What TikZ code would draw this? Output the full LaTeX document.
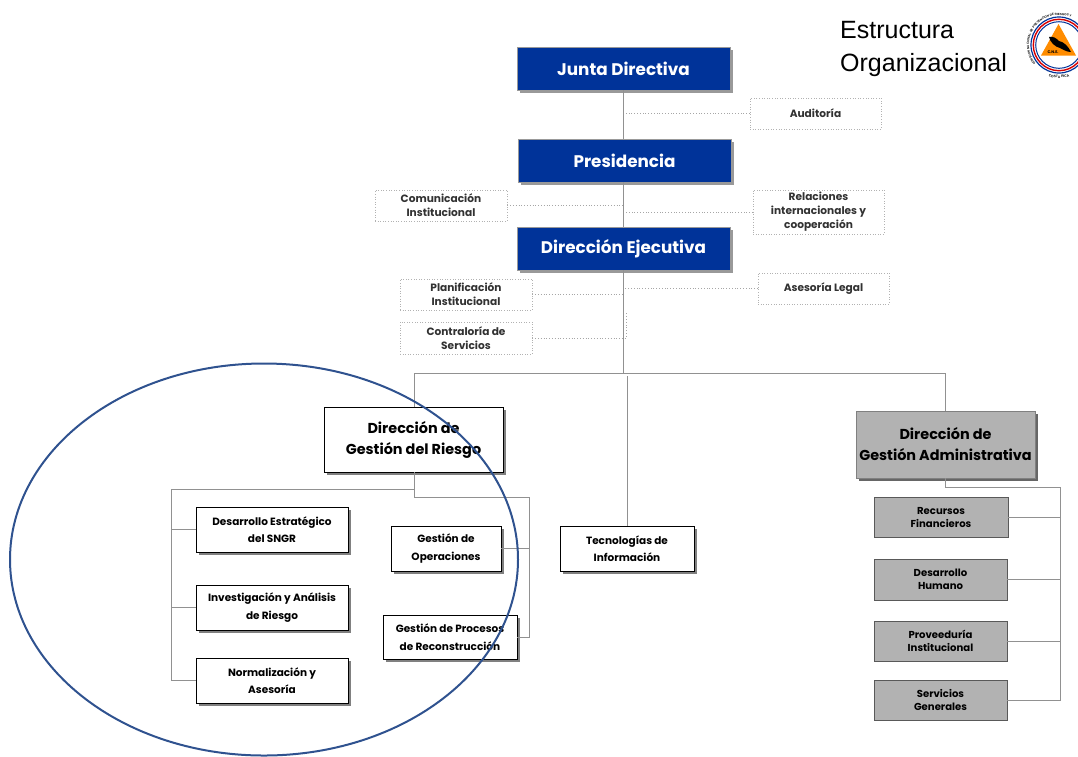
\documentclass[tikz,border=0pt]{standalone}
\usepackage{fontspec}
\setmainfont{Poppins}
\newfontfamily\arialf{Liberation Sans}
\usetikzlibrary{shadows,decorations.text}
\definecolor{navy}{RGB}{0,51,153}
\definecolor{ringblue}{RGB}{47,82,143}
\definecolor{linegray}{RGB}{145,145,145}
\definecolor{boxgray}{RGB}{178,178,178}
\definecolor{txtgray}{RGB}{50,50,50}
\tikzset{
  shad/.style={general shadow={fill=#1,shadow xshift=3pt,shadow yshift=-3pt}},
  topbox/.style={draw=gray!80,line width=0.8pt,fill=navy,text=white,font=\bfseries\fontsize{16.8}{20}\selectfont,shad=gray!80,inner sep=0pt,align=center},
  mainw/.style={draw=black,line width=0.7pt,fill=white,text=black,font=\bfseries\fontsize{14.4}{21}\selectfont,shad=gray,inner sep=0pt,align=center},
  maing/.style={draw=gray,line width=0.8pt,fill=boxgray,text=black,font=\bfseries\fontsize{14.4}{21}\selectfont,shad=gray!80!black,inner sep=0pt,align=center},
  subw/.style={draw=black,line width=0.7pt,fill=white,text=black,font=\bfseries\fontsize{10.5}{17.5}\selectfont,shad=gray,inner sep=0pt,align=center},
  subg/.style={draw=gray!70!black,line width=0.6pt,fill=boxgray,text=black,font=\bfseries\fontsize{10.1}{13}\selectfont,inner sep=0pt,align=center},
  staff/.style={draw=gray!60,dotted,line width=0.6pt,fill=white,text=txtgray,font=\bfseries\fontsize{10.6}{14}\selectfont,inner sep=0pt,align=center},
  solidl/.style={draw=linegray,line width=1pt},
  dotl/.style={draw=gray!70,dotted,line width=0.8pt},
}
\begin{document}
\begin{tikzpicture}[x=1pt,y=-1pt]
\useasboundingbox (0,0) rectangle (1078,756);
% title
\node[anchor=base west,inner sep=0pt,font=\arialf\fontsize{25}{30}\selectfont] (title1) at (840,38) {Estructura};
\node[anchor=base west,inner sep=0pt,font=\arialf\fontsize{25}{30}\selectfont] (title2) at (840,71) {Organizacional};
% connector points on the trunk
\coordinate (t1) at (625,114);
\coordinate (t2) at (623,205);
\coordinate (t3) at (625,212);
\coordinate (t4) at (622,295);
\coordinate (t5) at (624,288);
\coordinate (t6) at (626,338);
\coordinate (t6b) at (626,312);
\coordinate (hub) at (623,373);
\coordinate (hl) at (414,373);
\coordinate (hr) at (945,373);
\coordinate (tec) at (627,376);
% boxes
\node[topbox,minimum width=213pt,minimum height=43pt] (junta) at (623.5,68.5) {Junta Directiva};
\node[topbox,minimum width=213pt,minimum height=43pt] (pres) at (624.5,160.5) {Presidencia};
\node[topbox,minimum width=213pt,minimum height=43pt] (dire) at (623.5,248.5) {Dirección Ejecutiva};
\node[staff,minimum width=131pt,minimum height=31pt] (aud) at (815.5,113.5) {Auditoría};
\node[staff,minimum width=132pt,minimum height=31pt] (com) at (441,205.5) {Comunicación\\Institucional};
\node[staff,minimum width=131pt,minimum height=44pt] (rel) at (818.5,212) {Relaciones\\internacionales y\\cooperación};
\node[staff,minimum width=132pt,minimum height=31pt] (pla) at (466,294.5) {Planificación\\Institucional};
\node[staff,minimum width=132pt,minimum height=32pt] (con) at (466,338) {Contraloría de\\Servicios};
\node[staff,minimum width=131pt,minimum height=31pt] (ase) at (823.5,288.5) {Asesoría Legal};
\node[mainw,minimum width=179pt,minimum height=65pt] (dgr) at (413.5,439.5) {Dirección de\\Gestión del Riesgo};
\node[maing,minimum width=179pt,minimum height=67pt] (dga) at (945.5,444.5) {Dirección de\\Gestión Administrativa};
\node[subw,minimum width=152pt,minimum height=45pt] (des) at (272,529.5) {Desarrollo Estratégico\\del SNGR};
\node[subw,minimum width=152pt,minimum height=45pt] (inv) at (272,607.5) {Investigación y Análisis\\de Riesgo};
\node[subw,minimum width=152pt,minimum height=45pt] (nor) at (272,680.5) {Normalización y\\Asesoría};
\node[subw,minimum width=110pt,minimum height=45pt] (ope) at (446,548.5) {Gestión de\\Operaciones};
\node[subw,minimum width=134pt,minimum height=44pt] (pro) at (450,637) {Gestión de Procesos\\de Reconstrucción};
\node[subw,minimum width=134pt,minimum height=45pt] (tin) at (627,548.5) {Tecnologías de\\Información};
\node[subg,minimum width=134pt,minimum height=40pt] (rec) at (941,517) {Recursos\\Financieros};
\node[subg,minimum width=133pt,minimum height=41pt] (hum) at (940.5,579.5) {Desarrollo\\Humano};
\node[subg,minimum width=133pt,minimum height=40pt] (prv) at (940.5,641) {Proveeduría\\Institucional};
\node[subg,minimum width=133pt,minimum height=40pt] (ser) at (940.5,700) {Servicios\\Generales};
% solid connectors
\draw[solidl] (junta.south -| hub) -- (pres.north -| hub);
\draw[solidl] (pres.south -| hub) -- (dire.north -| hub);
\draw[solidl] (dire.south -| hub) -- (hub);
\draw[solidl] (dgr.north -| hl) -- (hl) -- (hr) -- (dga.north -| hr);
\draw[solidl] (tec) -- (tin.north);
\coordinate (dl) at (414,489);
\coordinate (dr) at (414,497);
\coordinate (ll) at (171,489);
\coordinate (rr) at (529,497);
\draw[solidl] (dgr.south -| dl) -- (dr) -- (rr) |- (pro.east);
\draw[solidl] (dl) -- (ll) |- (nor.west);
\draw[solidl] (ll |- des.west) -- (des.west);
\draw[solidl] (ll |- inv.west) -- (inv.west);
\draw[solidl] (ope.east) -- (rr |- ope.east);
\coordinate (ra) at (945,487);
\coordinate (rb) at (1060,487);
\draw[solidl] (dga.south -| ra) -- (ra) -- (rb) |- (ser.east);
\draw[solidl] (rec.east) -- (rb |- rec.east);
\draw[solidl] (hum.east) -- (rb |- hum.east);
\draw[solidl] (prv.east) -- (rb |- prv.east);
\draw[dotl] (aud.west) -- (aud.west -| t1);
\draw[dotl] (com.east) -- (com.east -| t2);
\draw[dotl] (rel.west) -- (rel.west -| t3);
\draw[dotl] (pla.east) -- (pla.east -| t4);
\draw[dotl] (ase.west) -- (ase.west -| t5);
\draw[dotl] (con.east) -- (con.east -| t6) -- (t6b);
% highlight ellipse
\draw[ringblue,line width=2pt] (264,559.5) ellipse [x radius=254,y radius=196];
% logo
\begin{scope}
\clip (1018,6) rectangle (1078,84);
\fill[white] (1059,45) circle (34.5);
\draw[navy,line width=1.2pt] (1059,45) circle (28);
\draw[red!85!black,line width=1.4pt] (1059,45) circle (25.7);
\draw[navy,line width=1pt] (1059,45) circle (23.3);
\fill[orange!90!yellow] (1058.5,24) -- (1041,55.5) -- (1076,55.5) -- cycle;
\fill[black] (1049,37) .. controls (1053,36) and (1056,38) .. (1059,41) .. controls (1064,42) and (1068,46) .. (1071,52) .. controls (1067,52) and (1064,50) .. (1060,48) .. controls (1055,47) and (1050,42) .. (1049,37) -- cycle;
\node[inner sep=0pt,font=\bfseries\fontsize{3.8}{4}\selectfont] (cne) at (1053,52.5) {C.N.E.};
\end{scope}
\path[postaction={decorate},decoration={text along path,text align=center,text={|\arialf\bfseries\fontsize{3}{4}\selectfont|COMISION NACIONAL DE PREVENCION DE RIESGOS Y}}] (1059,45) ++(130:30) arc[start angle=130,end angle=305,radius=30];
\path[postaction={decorate},decoration={text along path,text align=center,text={|\arialf\bfseries\fontsize{3.4}{4}\selectfont|COSTA RICA}}] (1059,45) ++(120:33) arc[start angle=120,end angle=60,radius=33];
\end{tikzpicture}
\end{document}
